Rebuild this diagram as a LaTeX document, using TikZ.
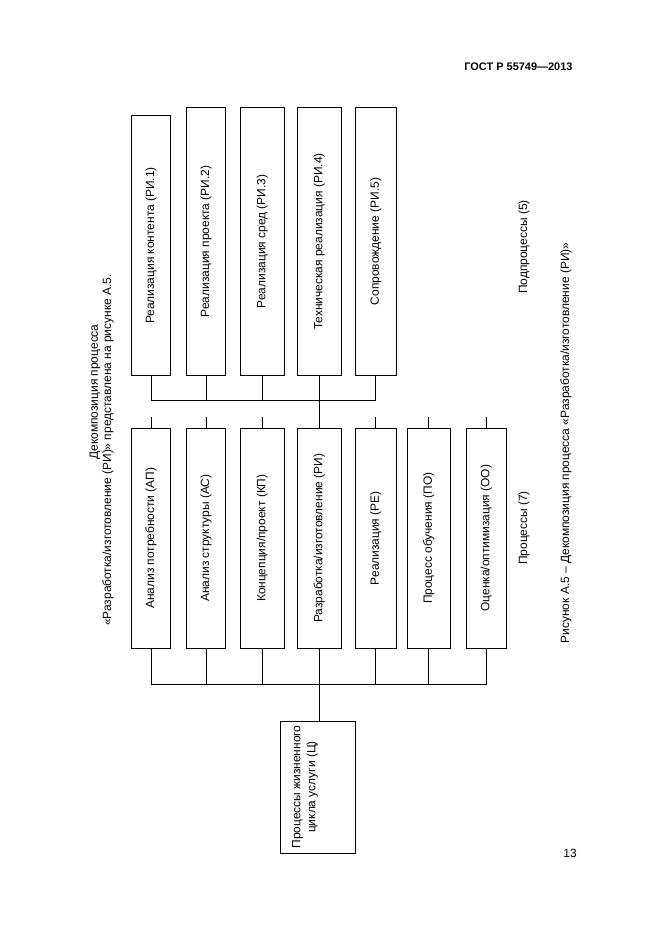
\documentclass[tikz,border=0pt]{standalone}
\usepackage{fontspec}
\usepackage{graphicx}
\setmainfont{Liberation Sans}
\begin{document}
\begin{tikzpicture}[x=1bp,y=-1bp,
  every node/.style={font=\fontsize{12}{15}\selectfont},
  box/.style={draw,line width=0.9bp,inner sep=0pt},
  conn/.style={line width=0.9bp},
  lbl/.style={rotate=90,inner sep=0pt}]
\useasboundingbox[fill=white] (0,0) rectangle (661,936);
% header and page number
\node[anchor=east,font=\fontsize{11}{13}\selectfont\bfseries] (hdr) at (576,67) {ГОСТ Р 55749—2013};
\node (pg) at (570,853) {13};
% title
\node[lbl] (t1) at (95,392) {Декомпозиция процесса};
\node[lbl] (t2) at (108,450) {«Разработка/изготовление (РИ)» представлена на рисунке А.5.};
% subprocess boxes
\node[box,minimum width=38.6,minimum height=261] (s1) at (151,245.5) {\rotatebox{90}{Реализация контента (РИ.1)}};
\node[box,minimum width=39.4,minimum height=269] (s2) at (206,241.5) {\rotatebox{90}{Реализация проекта (РИ.2)}};
\node[box,minimum width=44,minimum height=269] (s3) at (262.3,241.5) {\rotatebox{90}{Реализация сред (РИ.3)}};
\node[box,minimum width=44,minimum height=269] (s4) at (319.3,241.5) {\rotatebox{90}{Техническая реализация (РИ.4)}};
\node[box,minimum width=41,minimum height=269] (s5) at (375.8,241.5) {\rotatebox{90}{Сопровождение (РИ.5)}};
% process boxes
\node[box,minimum width=38.6,minimum height=221] (m1) at (151,538.2) {\rotatebox{90}{Анализ потребности (АП)}};
\node[box,minimum width=39.4,minimum height=221] (m2) at (206,538.2) {\rotatebox{90}{Анализ структуры (АС)}};
\node[box,minimum width=44,minimum height=221] (m3) at (262.3,538.2) {\rotatebox{90}{Концепция/проект (КП)}};
\node[box,minimum width=44,minimum height=221] (m4) at (319.3,538.2) {\rotatebox{90}{Разработка/изготовление (РИ)}};
\node[box,minimum width=41,minimum height=221] (m5) at (375.8,538.2) {\rotatebox{90}{Реализация (РЕ)}};
\node[box,minimum width=43,minimum height=221] (m6) at (428.8,538.2) {\rotatebox{90}{Процесс обучения (ПО)}};
\node[box,minimum width=40,minimum height=221] (m7) at (486.3,538.2) {\rotatebox{90}{Оценка/оптимизация (ОО)}};
% life cycle box
\node[box,minimum width=75,minimum height=132.6] (c) at (318.2,787) {};
\node[lbl,align=center] (ct) at (305,787) {Процессы жизненного\\цикла услуги (Ц)};
% side labels
\node[lbl] (sub) at (524,247) {Подпроцессы (5)};
\node[lbl] (proc) at (524,528) {Процессы (7)};
\node[lbl] (cap) at (566,443) {Рисунок А.5 – Декомпозиция процесса «Разработка/изготовление (РИ)»};
% connectors
\coordinate (tb) at (0,400);
\coordinate (bb) at (0,684);
\draw[conn] (s1.south) -- (s1.south |- tb) -- (s5.south |- tb) -- (s5.south);
\foreach \n in {s2,s3} \draw[conn] (\n.south) -- (\n.south |- tb);
\draw[conn] (s4.south) -- (m4.north);
\foreach \n in {m1,m2,m3,m5,m6,m7} \draw[conn] (\n.north) -- ++(0,-11);
\draw[conn] (m1.south) -- (m1.south |- bb) -- (m7.south |- bb) -- (m7.south);
\foreach \n in {m2,m3,m5,m6} \draw[conn] (\n.south) -- (\n.south |- bb);
\draw[conn] (m4.south) -- (c.north -| m4.south);
\end{tikzpicture}
\end{document}
